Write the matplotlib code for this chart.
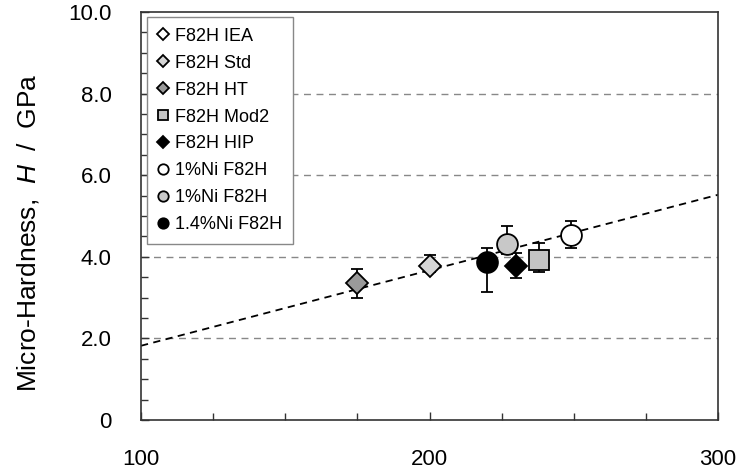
import numpy as np
import matplotlib
matplotlib.use('Agg')
import matplotlib.pyplot as plt
from matplotlib.ticker import MultipleLocator, FuncFormatter

plt.rcParams['font.family'] = ['Liberation Sans', 'DejaVu Sans']
plt.rcParams['mathtext.fontset'] = 'custom'
plt.rcParams['mathtext.it'] = 'Liberation Sans:italic'
plt.rcParams['mathtext.rm'] = 'Liberation Sans'

# Data
labels = ['F82H IEA', 'F82H Std', 'F82H HT', 'F82H Mod2', 'F82H HIP',
          '1%Ni F82H', '1%Ni F82H', '1.4%Ni F82H']
x_vals = [None, 200, 175, 238, 230, 249, 227, 220]
y_vals = [None, 3.78, 3.35, 3.92, 3.77, 4.53, 4.31, 3.88]
err_lo = [None, 0.15, 0.36, 0.30, 0.30, 0.32, 0.25, 0.74]
err_hi = [None, 0.26, 0.35, 0.41, 0.33, 0.35, 0.45, 0.33]
markers = ['D', 'D', 'D', 's', 'D', 'o', 'o', 'o']
face_colors = ['white', '#d6d6d6', '#9a9a9a', '#c4c4c4', 'black', 'white', '#c8c8c8', 'black']
marker_sizes = [11.5, 11.5, 11.5, 14, 11.5, 15, 15, 15]

trend_x = [100, 300]
trend_y = [1.82, 5.52]

fig = plt.figure(figsize=(7.49, 4.76), dpi=100)
ax = fig.add_axes([0.1883, 0.1176, 0.7703, 0.8572])

# horizontal dashed grid
for gy in [2, 4, 6, 8]:
    ax.axhline(gy, color='#888888', lw=1.0, ls=(0, (5, 4)), zorder=1)

ax.plot(trend_x, trend_y, color='black', lw=1.3, ls=(0, (4, 3)), zorder=2)

handles = []
for i in range(len(labels)):
    if x_vals[i] is None:
        h, = ax.plot([], [], ls='none', marker=markers[i], ms=marker_sizes[i],
                     mfc=face_colors[i], mec='black', mew=1.3)
        handles.append(h)
        continue
    c = ax.errorbar([x_vals[i]], [y_vals[i]], yerr=[[err_lo[i]], [err_hi[i]]],
                    fmt=markers[i], ms=marker_sizes[i], mfc=face_colors[i],
                    mec='black', mew=1.3, ecolor='black', elinewidth=1.3,
                    capsize=4, capthick=1.3, zorder=3 + i)
    handles.append(c[0])

ax.set_xlim(100, 300)
ax.set_ylim(0, 10)
ax.xaxis.set_major_locator(MultipleLocator(100))
ax.xaxis.set_minor_locator(MultipleLocator(25))
ax.yaxis.set_major_locator(MultipleLocator(2))
ax.yaxis.set_minor_locator(MultipleLocator(0.5))
ax.yaxis.set_major_formatter(FuncFormatter(lambda v, p: '0' if v == 0 else f'{v:.1f}'))
ax.tick_params(which='both', direction='in', color='#333333', width=1)
ax.tick_params(which='major', length=6)
ax.tick_params(which='minor', length=5)
ax.tick_params(axis='x', which='major', pad=21, labelsize=16)
ax.tick_params(axis='y', which='major', pad=21, labelsize=16)
for s in ax.spines.values():
    s.set_color('#333333')
    s.set_linewidth(1.2)

ax.set_ylabel('Micro-Hardness,  $\\mathit{H}$  /  GPa', fontsize=19)
ax.yaxis.set_label_coords(-0.173, 0.46)

leg = ax.legend(handles, labels, loc='upper left', bbox_to_anchor=(0.0104, 0.988),
                borderaxespad=0, fontsize=13, markerscale=0.5, numpoints=1,
                handlelength=0.6, handletextpad=0.35, labelspacing=0.55,
                borderpad=0.6, fancybox=False, framealpha=1, edgecolor='#888888')
leg.get_frame().set_linewidth(1.0)
leg.set_zorder(20)

fig.savefig('out.png', dpi=100)
